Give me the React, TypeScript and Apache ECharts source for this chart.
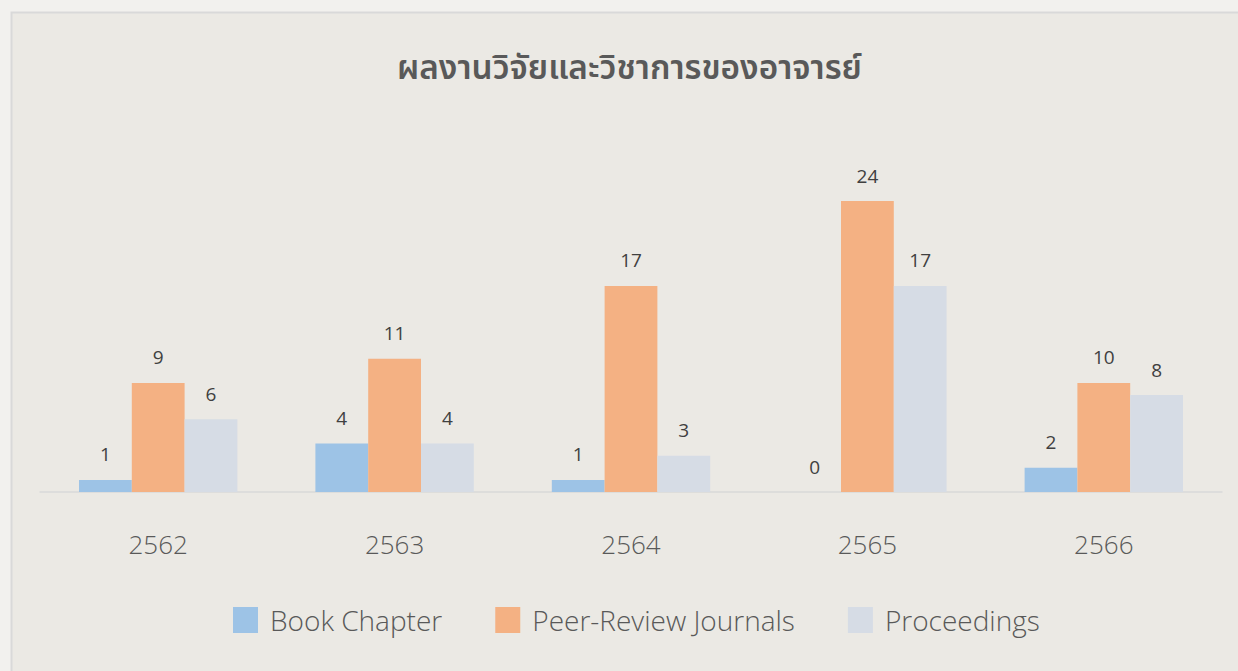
import React, { useEffect, useRef } from "react";
import * as echarts from "echarts";

const categories = ["2562", "2563", "2564", "2565", "2566"];
const bookChapter = [1, 4, 1, 0, 2];
// bar heights as drawn in the reference (the 2566 bar is drawn at 9 but labelled 10)
const peerReview = [9, 11, 17, 24, 9];
const peerReviewLabels = ["9", "11", "17", "24", "10"];
const proceedings = [6, 4, 3, 17, 8];
const seriesNames = ["Book Chapter", "Peer-Review Journals", "Proceedings"];
const titleText = "ผลงานวิจัยและวิชาการของอาจารย์";

const W = 1238;
const H = 671;

export default function App() {
  const ref = useRef<HTMLDivElement>(null);
  useEffect(() => {
    if (!ref.current) return;
    const chart = echarts.init(ref.current, null, { renderer: "svg" });
    const font = "'Open Sans', 'Noto Sans', 'Noto Sans Thai', sans-serif";
    const label = {
      show: true,
      position: "top",
      distance: 16,
      color: "#404040",
      fontSize: 19,
      fontFamily: font,
    };
    chart.setOption({
      animation: false,
      backgroundColor: "#F2F1EE",
      graphic: [
        {
          type: "rect",
          shape: { x: 11.5, y: 12.5, width: 1300, height: 700 },
          style: { fill: "#EBE9E4", stroke: "#D9D9D9", lineWidth: 2 },
          z: -10,
          silent: true,
        },
      ],
      title: {
        text: titleText,
        left: 392,
        top: 47,
        textStyle: {
          fontFamily: "'Noto Sans Thai', 'Noto Sans', sans-serif",
          fontWeight: 600,
          fontSize: 33.3,
          color: "#595959",
        },
      },
      legend: {
        bottom: 32,
        left: 228,
        itemWidth: 25,
        itemHeight: 26,
        itemGap: 53,
        icon: "rect",
        textStyle: {
          fontFamily: font,
          fontWeight: 300,
          fontSize: 28,
          color: "#595959",
          padding: [0, 0, 0, 7],
        },
        data: seriesNames,
      },
      grid: { left: 40, right: 16, top: 128.25, bottom: 179 },
      xAxis: {
        type: "category",
        data: categories,
        axisLine: { show: true, lineStyle: { color: "#D9D9D9", width: 1.5 } },
        axisTick: { show: false },
        axisLabel: {
          color: "#595959",
          fontSize: 26,
          fontFamily: font,
          fontWeight: 300,
          margin: 39,
        },
      },
      yAxis: {
        type: "value",
        min: 0,
        max: 30,
        show: false,
        splitLine: { show: false },
      },
      series: [
        {
          name: seriesNames[0],
          type: "bar",
          data: bookChapter,
          itemStyle: { color: "#9DC3E6" },
          barGap: "0%",
          barCategoryGap: "33%",
          label,
        },
        {
          name: seriesNames[1],
          type: "bar",
          data: peerReview,
          itemStyle: { color: "#F4B183" },
          barGap: "0%",
          barCategoryGap: "33%",
          label: {
            ...label,
            formatter: (p: any) => peerReviewLabels[p.dataIndex],
          },
        },
        {
          name: seriesNames[2],
          type: "bar",
          data: proceedings,
          itemStyle: { color: "#D6DCE5" },
          barGap: "0%",
          barCategoryGap: "33%",
          label,
        },
      ],
    });
    return () => chart.dispose();
  }, []);
  return (
    <div
      ref={ref}
      style={{ position: "absolute", left: 0, top: 0, width: W, height: H }}
    />
  );
}
